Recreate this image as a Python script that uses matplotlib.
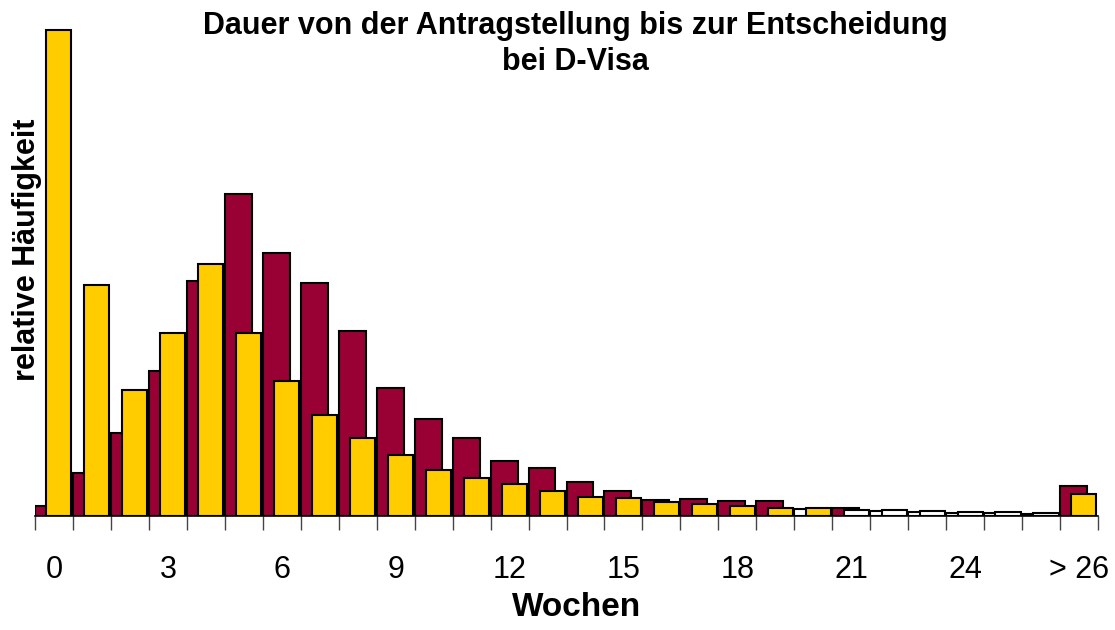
import numpy as np
import matplotlib
matplotlib.use("Agg")
import matplotlib.pyplot as plt

plt.rcParams['font.family'] = ['Liberation Sans', 'DejaVu Sans']

# categories: weeks 0..26 and "> 26"
wochen = list(range(27)) + ["> 26"]
tick_labels = ["0", "3", "6", "9", "12", "15", "18", "21", "24", "> 26"]
tick_idx = [0, 3, 6, 9, 12, 15, 18, 21, 24, 27]

# relative frequency (%), red series
rot = [0.48, 2.05, 3.95, 6.9, 11.2, 15.3, 12.5, 11.1, 8.8, 6.1,
       4.6, 3.7, 2.6, 2.3, 1.6, 1.2, 0.76, 0.81, 0.71, 0.71,
       0.33, 0.38, 0.24, 0.19, 0.14, 0.14, 0.10, 1.43]
# relative frequency (%), yellow series
gelb = [23.1, 11.0, 6.0, 8.7, 12.0, 8.7, 6.4, 4.8, 3.7, 2.9,
        2.2, 1.8, 1.5, 1.2, 0.9, 0.86, 0.67, 0.57, 0.48, 0.38,
        0.38, 0.29, 0.29, 0.24, 0.19, 0.19, 0.14, 1.05]

red = "#990033"
yellow = "#FFCC00"
red_faces = [red] * len(rot)
yellow_faces = [yellow] * len(gelb)
for i in [20, 22, 23, 24, 25, 26]:
    red_faces[i] = "white"
for i in range(21, 27):
    yellow_faces[i] = "white"

fig = plt.figure(figsize=(11.15, 6.3), dpi=100)
ax = fig.add_axes([35 / 1115, 114 / 630, 1063 / 1115, 494 / 630])

x = np.arange(len(wochen))
ax.bar(x, rot, width=0.71, align="edge", color=red_faces,
       edgecolor="black", linewidth=1.5, zorder=2)
ax.bar(x + 0.3, gelb, width=0.66, align="edge", color=yellow_faces,
       edgecolor="black", linewidth=1.5, zorder=3)

ax.set_xlim(0, len(wochen))
ax.set_ylim(0, 23.5)
ax.set_yticks([])
for s in ["top", "right", "left"]:
    ax.spines[s].set_visible(False)
ax.spines["bottom"].set_linewidth(1.2)

# ticks at category boundaries, labels at centres
ax.set_xticks(np.arange(len(wochen) + 1))
ax.set_xticklabels([])
ax.tick_params(axis="x", which="major", length=10, width=1, color="#444444")
ax.set_xticks([i + 0.5 for i in tick_idx], minor=True)
ax.set_xticklabels(tick_labels, minor=True, fontsize=22)
ax.tick_params(axis="x", which="minor", length=0, pad=28)

fig.text(577 / 1115, 1 - 607 / 630, "Wochen", ha="center", va="center",
         fontsize=24, fontweight="bold")
fig.text(575 / 1115, 1 - 44 / 630,
         "Dauer von der Antragstellung bis zur Entscheidung\nbei D-Visa",
         ha="center", va="center", fontsize=22, fontweight="bold",
         linespacing=1.3)
fig.text(27 / 1115, 1 - 250 / 630, "relative Häufigkeit", rotation=90,
         ha="center", va="center", fontsize=22, fontweight="bold")

fig.savefig("out.png", dpi=100)
